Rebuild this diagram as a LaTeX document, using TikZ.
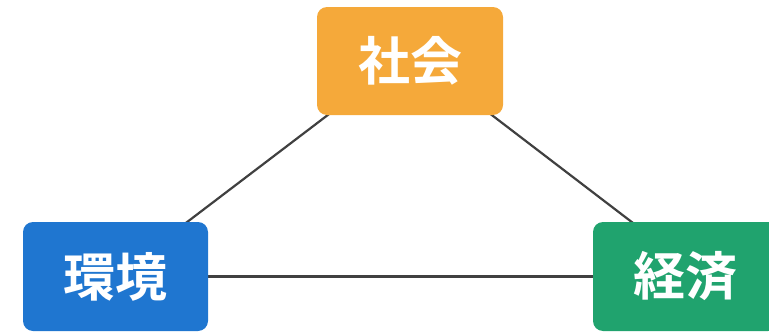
\documentclass[tikz,border=0pt]{standalone}
\usepackage{fontspec}
\newfontfamily\cjk{Noto Sans CJK JP Bold}
\usetikzlibrary{backgrounds}
\definecolor{socorange}{HTML}{F5A93A}
\definecolor{envblue}{HTML}{1F76D0}
\definecolor{econgreen}{HTML}{20A36E}
\definecolor{linkgray}{HTML}{404040}
\tikzset{
  pillar/.style={rounded corners=10pt, minimum width=185pt, minimum height=109pt,
    text=white, font=\cjk\fontsize{52}{60}\selectfont, inner sep=0pt},
  link/.style={draw=linkgray, line width=2.2pt}
}
\begin{document}
\begin{tikzpicture}[x=1pt, y=-1pt]
      \clip (0,0) rectangle (769,332);
      %
      \node[pillar, fill=socorange, minimum width=186pt, minimum height=108pt] (soc) at (410,61) {社会};
      \node[pillar, fill=envblue] (env) at (115.5,276.5) {環境};
      \node[pillar, fill=econgreen] (econ) at (685.5,276.5) {経済};
      %
      \begin{pgfonlayer}{background}
        \draw[link] (env.center) -- ([yshift=8.5pt]soc.center);
        \draw[link] ([yshift=8.5pt]soc.center) -- ([xshift=17.5pt]econ.center);
        \draw[link] (env.center) -- (econ.center);
      \end{pgfonlayer}
      %
    \end{tikzpicture}
\end{document}
